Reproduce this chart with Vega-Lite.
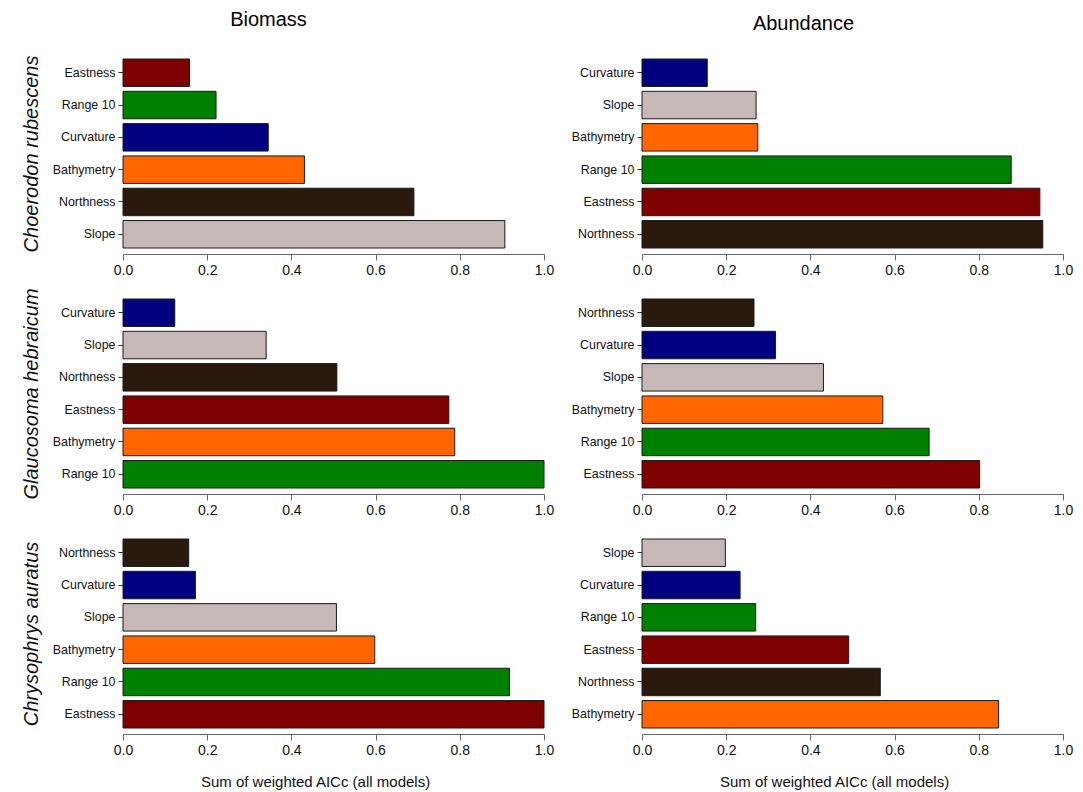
{
  "$schema": "https://vega.github.io/schema/vega-lite/v6.json",
  "padding": {"left": 20, "top": 10, "right": 5, "bottom": 5},
  "background": "white",
  "data": {
    "values": [
      {"species": "Choerodon rubescens", "response": "Biomass", "variable": "Eastness", "value": 0.158},
      {"species": "Choerodon rubescens", "response": "Biomass", "variable": "Range 10", "value": 0.221},
      {"species": "Choerodon rubescens", "response": "Biomass", "variable": "Curvature", "value": 0.345},
      {"species": "Choerodon rubescens", "response": "Biomass", "variable": "Bathymetry", "value": 0.431},
      {"species": "Choerodon rubescens", "response": "Biomass", "variable": "Northness", "value": 0.691},
      {"species": "Choerodon rubescens", "response": "Biomass", "variable": "Slope", "value": 0.907},
      {"species": "Choerodon rubescens", "response": "Abundance", "variable": "Curvature", "value": 0.155},
      {"species": "Choerodon rubescens", "response": "Abundance", "variable": "Slope", "value": 0.271},
      {"species": "Choerodon rubescens", "response": "Abundance", "variable": "Bathymetry", "value": 0.275},
      {"species": "Choerodon rubescens", "response": "Abundance", "variable": "Range 10", "value": 0.877},
      {"species": "Choerodon rubescens", "response": "Abundance", "variable": "Eastness", "value": 0.945},
      {"species": "Choerodon rubescens", "response": "Abundance", "variable": "Northness", "value": 0.952},
      {"species": "Glaucosoma hebraicum", "response": "Biomass", "variable": "Curvature", "value": 0.123},
      {"species": "Glaucosoma hebraicum", "response": "Biomass", "variable": "Slope", "value": 0.340},
      {"species": "Glaucosoma hebraicum", "response": "Biomass", "variable": "Northness", "value": 0.508},
      {"species": "Glaucosoma hebraicum", "response": "Biomass", "variable": "Eastness", "value": 0.774},
      {"species": "Glaucosoma hebraicum", "response": "Biomass", "variable": "Bathymetry", "value": 0.788},
      {"species": "Glaucosoma hebraicum", "response": "Biomass", "variable": "Range 10", "value": 1.0},
      {"species": "Glaucosoma hebraicum", "response": "Abundance", "variable": "Northness", "value": 0.266},
      {"species": "Glaucosoma hebraicum", "response": "Abundance", "variable": "Curvature", "value": 0.317},
      {"species": "Glaucosoma hebraicum", "response": "Abundance", "variable": "Slope", "value": 0.431},
      {"species": "Glaucosoma hebraicum", "response": "Abundance", "variable": "Bathymetry", "value": 0.572},
      {"species": "Glaucosoma hebraicum", "response": "Abundance", "variable": "Range 10", "value": 0.682},
      {"species": "Glaucosoma hebraicum", "response": "Abundance", "variable": "Eastness", "value": 0.802},
      {"species": "Chrysophrys auratus", "response": "Biomass", "variable": "Northness", "value": 0.156},
      {"species": "Chrysophrys auratus", "response": "Biomass", "variable": "Curvature", "value": 0.172},
      {"species": "Chrysophrys auratus", "response": "Biomass", "variable": "Slope", "value": 0.507},
      {"species": "Chrysophrys auratus", "response": "Biomass", "variable": "Bathymetry", "value": 0.598},
      {"species": "Chrysophrys auratus", "response": "Biomass", "variable": "Range 10", "value": 0.918},
      {"species": "Chrysophrys auratus", "response": "Biomass", "variable": "Eastness", "value": 1.0},
      {"species": "Chrysophrys auratus", "response": "Abundance", "variable": "Slope", "value": 0.198},
      {"species": "Chrysophrys auratus", "response": "Abundance", "variable": "Curvature", "value": 0.233},
      {"species": "Chrysophrys auratus", "response": "Abundance", "variable": "Range 10", "value": 0.270},
      {"species": "Chrysophrys auratus", "response": "Abundance", "variable": "Eastness", "value": 0.491},
      {"species": "Chrysophrys auratus", "response": "Abundance", "variable": "Northness", "value": 0.566},
      {"species": "Chrysophrys auratus", "response": "Abundance", "variable": "Bathymetry", "value": 0.847}
    ]
  },
  "columns": 2,
  "bounds": "flush",
  "spacing": {"row": 51, "column": 98},
  "concat": [
    {
      "width": 421, "height": 189,
      "title": {"text": "Biomass", "dx": -65},
      "transform": [{"filter": "datum.species === 'Choerodon rubescens' && datum.response === 'Biomass'"}],
      "mark": {"type": "bar", "stroke": "#1a1a1a", "strokeWidth": 1},
      "encoding": {
        "y": {"field": "variable", "type": "nominal", "sort": "x", "scale": {"paddingInner": 0.15, "paddingOuter": 0},
              "axis": {"title": "Choerodon rubescens", "titleX": -92, "titleY": 94.5}},
        "x": {"field": "value", "type": "quantitative", "scale": {"domain": [0, 1]},
              "axis": {"title": null, "values": [0, 0.2, 0.4, 0.6, 0.8, 1.0]}},
        "color": {"field": "variable", "type": "nominal", "legend": null,
                  "scale": {"domain": ["Eastness", "Range 10", "Curvature", "Bathymetry", "Northness", "Slope"],
                            "range": ["#7f0000", "#008000", "#000080", "#ff6600", "#2a1a0e", "#c7b8b8"]}}
      }
    },
    {
      "width": 421, "height": 189,
      "title": {"text": "Abundance", "dx": -49},
      "transform": [{"filter": "datum.species === 'Choerodon rubescens' && datum.response === 'Abundance'"}],
      "mark": {"type": "bar", "stroke": "#1a1a1a", "strokeWidth": 1},
      "encoding": {
        "y": {"field": "variable", "type": "nominal", "sort": "x", "scale": {"paddingInner": 0.15, "paddingOuter": 0},
              "axis": {"title": null}},
        "x": {"field": "value", "type": "quantitative", "scale": {"domain": [0, 1]},
              "axis": {"title": null, "values": [0, 0.2, 0.4, 0.6, 0.8, 1.0]}},
        "color": {"field": "variable", "type": "nominal", "legend": null,
                  "scale": {"domain": ["Eastness", "Range 10", "Curvature", "Bathymetry", "Northness", "Slope"],
                            "range": ["#7f0000", "#008000", "#000080", "#ff6600", "#2a1a0e", "#c7b8b8"]}}
      }
    },
    {
      "width": 421, "height": 189,
      "transform": [{"filter": "datum.species === 'Glaucosoma hebraicum' && datum.response === 'Biomass'"}],
      "mark": {"type": "bar", "stroke": "#1a1a1a", "strokeWidth": 1},
      "encoding": {
        "y": {"field": "variable", "type": "nominal", "sort": "x", "scale": {"paddingInner": 0.15, "paddingOuter": 0},
              "axis": {"title": "Glaucosoma hebraicum", "titleX": -92, "titleY": 94.5}},
        "x": {"field": "value", "type": "quantitative", "scale": {"domain": [0, 1]},
              "axis": {"title": null, "values": [0, 0.2, 0.4, 0.6, 0.8, 1.0]}},
        "color": {"field": "variable", "type": "nominal", "legend": null,
                  "scale": {"domain": ["Eastness", "Range 10", "Curvature", "Bathymetry", "Northness", "Slope"],
                            "range": ["#7f0000", "#008000", "#000080", "#ff6600", "#2a1a0e", "#c7b8b8"]}}
      }
    },
    {
      "width": 421, "height": 189,
      "transform": [{"filter": "datum.species === 'Glaucosoma hebraicum' && datum.response === 'Abundance'"}],
      "mark": {"type": "bar", "stroke": "#1a1a1a", "strokeWidth": 1},
      "encoding": {
        "y": {"field": "variable", "type": "nominal", "sort": "x", "scale": {"paddingInner": 0.15, "paddingOuter": 0},
              "axis": {"title": null}},
        "x": {"field": "value", "type": "quantitative", "scale": {"domain": [0, 1]},
              "axis": {"title": null, "values": [0, 0.2, 0.4, 0.6, 0.8, 1.0]}},
        "color": {"field": "variable", "type": "nominal", "legend": null,
                  "scale": {"domain": ["Eastness", "Range 10", "Curvature", "Bathymetry", "Northness", "Slope"],
                            "range": ["#7f0000", "#008000", "#000080", "#ff6600", "#2a1a0e", "#c7b8b8"]}}
      }
    },
    {
      "width": 421, "height": 189,
      "transform": [{"filter": "datum.species === 'Chrysophrys auratus' && datum.response === 'Biomass'"}],
      "mark": {"type": "bar", "stroke": "#1a1a1a", "strokeWidth": 1},
      "encoding": {
        "y": {"field": "variable", "type": "nominal", "sort": "x", "scale": {"paddingInner": 0.15, "paddingOuter": 0},
              "axis": {"title": "Chrysophrys auratus", "titleX": -92, "titleY": 94.5}},
        "x": {"field": "value", "type": "quantitative", "scale": {"domain": [0, 1]},
              "axis": {"title": "Sum of weighted AICc (all models)", "titleX": 192, "values": [0, 0.2, 0.4, 0.6, 0.8, 1.0]}},
        "color": {"field": "variable", "type": "nominal", "legend": null,
                  "scale": {"domain": ["Eastness", "Range 10", "Curvature", "Bathymetry", "Northness", "Slope"],
                            "range": ["#7f0000", "#008000", "#000080", "#ff6600", "#2a1a0e", "#c7b8b8"]}}
      }
    },
    {
      "width": 421, "height": 189,
      "transform": [{"filter": "datum.species === 'Chrysophrys auratus' && datum.response === 'Abundance'"}],
      "mark": {"type": "bar", "stroke": "#1a1a1a", "strokeWidth": 1},
      "encoding": {
        "y": {"field": "variable", "type": "nominal", "sort": "x", "scale": {"paddingInner": 0.15, "paddingOuter": 0},
              "axis": {"title": null}},
        "x": {"field": "value", "type": "quantitative", "scale": {"domain": [0, 1]},
              "axis": {"title": "Sum of weighted AICc (all models)", "titleX": 192, "values": [0, 0.2, 0.4, 0.6, 0.8, 1.0]}},
        "color": {"field": "variable", "type": "nominal", "legend": null,
                  "scale": {"domain": ["Eastness", "Range 10", "Curvature", "Bathymetry", "Northness", "Slope"],
                            "range": ["#7f0000", "#008000", "#000080", "#ff6600", "#2a1a0e", "#c7b8b8"]}}
      }
    }
  ],
  "config": {
    "font": "Liberation Sans",
    "view": {"stroke": null},
    "title": {"fontSize": 20, "fontWeight": "normal", "color": "#000", "anchor": "middle", "frame": "group", "offset": 25},
    "axisX": {
      "format": ".1f",
      "grid": false,
      "offset": 6,
      "domainColor": "#666",
      "tickColor": "#666",
      "tickSize": 6,
      "labelFontSize": 14,
      "labelColor": "#111",
      "labelPadding": 3,
      "labelFlush": false,
      "titleFontSize": 15,
      "titleFontWeight": "normal",
      "titleColor": "#111",
      "titlePadding": 17
    },
    "axisY": {
      "domain": false,
      "grid": false,
      "tickColor": "#333",
      "tickSize": 5,
      "labelFontSize": 12.4,
      "labelColor": "#111",
      "labelPadding": 3,
      "titleFontSize": 20,
      "titleFontWeight": "normal",
      "titleFontStyle": "italic",
      "titleColor": "#111",
      "titleAngle": -90,
      "titleAlign": "center",
      "titleBaseline": "middle"
    }
  }
}
